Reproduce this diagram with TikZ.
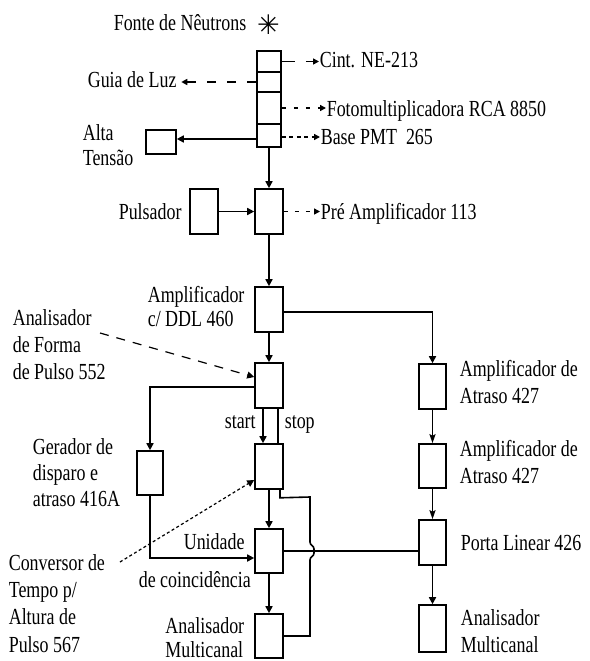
\documentclass[tikz,border=0pt]{standalone}
\usepackage{fontspec}
\setmainfont{Liberation Serif}
\newfontfamily\symfont{DejaVu Sans}
\usetikzlibrary{arrows.meta}
\newcommand{\nx}[1]{\scalebox{0.78}[1]{#1}}
\begin{document}
\begin{tikzpicture}[x=1pt,y=-1pt,line width=1.6pt,
  box/.style={draw,rectangle,inner sep=0pt,minimum width=28pt,minimum height=45pt},
  lbl/.style={inner sep=0pt,font=\fontsize{23}{26}\selectfont,anchor=base west},
  lble/.style={inner sep=0pt,font=\fontsize{23}{26}\selectfont,anchor=base east},
  arr/.style={-{Triangle[length=7pt,width=7pt]}},
  tarr/.style={-{Stealth[length=9pt,width=6pt,inset=1.5pt]}},
  sarr/.style={-{Triangle[length=6pt,width=6pt]}}]
\useasboundingbox (0,0) rectangle (589,661);
% detector stack
\node[box,minimum width=24pt,minimum height=21pt] (s1) at (269,61.5) {};
\node[box,minimum width=24pt,minimum height=20pt] (s2) at (269,82) {};
\node[box,minimum width=24pt,minimum height=32pt] (s3) at (269,108) {};
\node[box,minimum width=24pt,minimum height=23pt] (s4) at (269,135.5) {};
\node[box,minimum width=30pt,minimum height=24pt] (ht) at (161,142) {};
% main chain
\node[box] (pul) at (204,211.5) {};
\node[box] (pre) at (269,211.5) {};
\node[box] (amp) at (269,309.5) {};
\node[box] (psa) at (269,385.5) {};
\node[box] (tac) at (269,466.5) {};
\node[box,minimum height=44pt] (coin) at (269,551) {};
\node[box,minimum height=44pt] (mca1) at (269,636) {};
\node[box,minimum width=26pt,minimum height=44pt] (gd) at (150,473) {};
% right chain
\node[box,minimum width=27pt] (at1) at (432.5,386.5) {};
\node[box,minimum width=27pt,minimum height=44pt] (at2) at (432.5,466) {};
\node[box,minimum width=27pt] (pl) at (432.5,542.5) {};
\node[box,minimum width=27pt,minimum height=47pt] (mca2) at (432.5,628.5) {};
% labels
\node[lbl] (fonte) at (113,31) {\nx{Fonte de Nêutrons}};
\node[inner sep=0pt,font=\symfont\fontsize{27}{27}\selectfont] (star) at (268.5,25) {✳};
\node[lbl] (guia) at (87,87) {\nx{Guia de Luz}};
\node[lbl] (cint) at (319,67) {\nx{Cint. NE-213}};
\node[lbl] (foto) at (326,116) {\nx{Fotomultiplicadora RCA 8850}};
\node[lbl] (base) at (320,144) {\nx{Base PMT\ \ 265}};
\node[lbl] (alta1) at (82,140) {\nx{Alta}};
\node[lbl] (alta2) at (82,165) {\nx{Tensão}};
\node[lbl] (pulsl) at (118,219) {\nx{Pulsador}};
\node[lbl] (prel) at (320,219) {\nx{Pré Amplificador 113}};
\node[lbl] (ampl1) at (147,302.7) {\nx{Amplificador}};
\node[lbl] (ampl2) at (147,326.7) {\nx{c/ DDL 460}};
\node[lbl] (psal1) at (12,325) {\nx{Analisador}};
\node[lbl] (psal2) at (12,352) {\nx{de Forma}};
\node[lbl] (psal3) at (12,379) {\nx{de Pulso 552}};
\node[lbl] (at1l1) at (459,376.7) {\nx{Amplificador de}};
\node[lbl] (at1l2) at (459,403) {\nx{Atraso 427}};
\node[lbl] (at2l1) at (459,456.7) {\nx{Amplificador de}};
\node[lbl] (at2l2) at (459,483) {\nx{Atraso 427}};
\node[lbl] (pll) at (460,550) {\nx{Porta Linear 426}};
\node[lbl] (mca2l1) at (460,625) {\nx{Analisador}};
\node[lbl] (mca2l2) at (460,652) {\nx{Multicanal}};
\node[lbl] (startl) at (224,428) {\nx{start}};
\node[lbl] (stopl) at (284,428) {\nx{stop}};
\node[lbl] (gdl1) at (32,454) {\nx{Gerador de}};
\node[lbl] (gdl2) at (32,480) {\nx{disparo e}};
\node[lbl] (gdl3) at (32,506) {\nx{atraso 416A}};
\node[lbl] (tacl1) at (8,570) {\nx{Conversor de}};
\node[lbl] (tacl2) at (8,597) {\nx{Tempo p/}};
\node[lbl] (tacl3) at (8,624) {\nx{Altura de}};
\node[lbl] (tacl4) at (8,652) {\nx{Pulso 567}};
\node[lbl] (coinl1) at (183,549.3) {\nx{Unidade}};
\node[lbl] (coinl2) at (138,587) {\nx{de coincidência}};
\node[lble] (mca1l1) at (245,633) {\nx{Analisador}};
\node[lble] (mca1l2) at (244,657) {\nx{Multicanal}};
% stack connectors
\draw[sarr,dash pattern=on 13pt off 11pt] (s1.east) -- (s1.east -| cint.west);
\coordinate (gt) at ([xshift=4pt]guia.east);
\draw[sarr,dash pattern=on 9pt off 11pt] (s2.west) -- (s2.west -| gt);
\draw[sarr,dash pattern=on 4pt off 8pt] (s3.east) -- (s3.east -| foto.west);
\coordinate (bv) at ([yshift=-1.5pt]s4.east);
\draw[sarr,dash pattern=on 4pt off 3.5pt] (bv) -- (bv -| base.west);
\coordinate (hv) at ([yshift=-3.5pt]s4.west);
\draw[arr] (hv) -- (hv -| ht.east);
\draw[arr] (s4.south) -- (pre.north);
\draw[arr] (pul.east) -- (pre.west);
\draw[sarr,dash pattern=on 4pt off 7pt] (pre.east) -- (pre.east -| prel.west);
% main chain
\draw[arr] (pre.south) -- (amp.north);
\draw[arr] (amp.south) -- (psa.north);
\draw[arr] ([yshift=-2.5pt]amp.east) -| (at1.north);
\coordinate (psaS) at (100,333);
\draw[arr,dash pattern=on 9pt off 8pt,line width=1.2pt] (psaS) -- ([yshift=8.5pt]psa.west);
\draw[arr] ([xshift=-6pt]psa.south) -- ([xshift=-6pt]tac.north);
\draw ([xshift=9pt]psa.south) -- ([xshift=9pt]tac.north);
\draw[arr] ([yshift=-1.5pt]psa.west) -| (gd.north);
\draw[arr] (gd.south) |- ([yshift=-7pt]coin.west);
\coordinate (tacS) at (120,562);
\draw[arr,dash pattern=on 3pt off 2.5pt,line width=1.2pt] (tacS) -- ([yshift=-13.5pt]tac.west);
\draw[arr] (tac.south) -- (coin.north);
\draw[arr] (coin.south) -- (mca1.north);
\draw (coin.east) -- (coin.east -| pl.west);
\draw ([xshift=11pt]tac.south) -- ++(0,8) -- (310,497) -- (310,542)
  .. controls (310,546) and (314,545) .. (314,549) -- (314,553)
  .. controls (314,557) and (310,556) .. (310,560) -- (310,636) -- (mca1.east);
% right chain
\draw[tarr] (at1.south) -- (at2.north);
\draw[tarr] (at2.south) -- (pl.north);
\draw[arr] (pl.south) -- (mca2.north);
\end{tikzpicture}
\end{document}
